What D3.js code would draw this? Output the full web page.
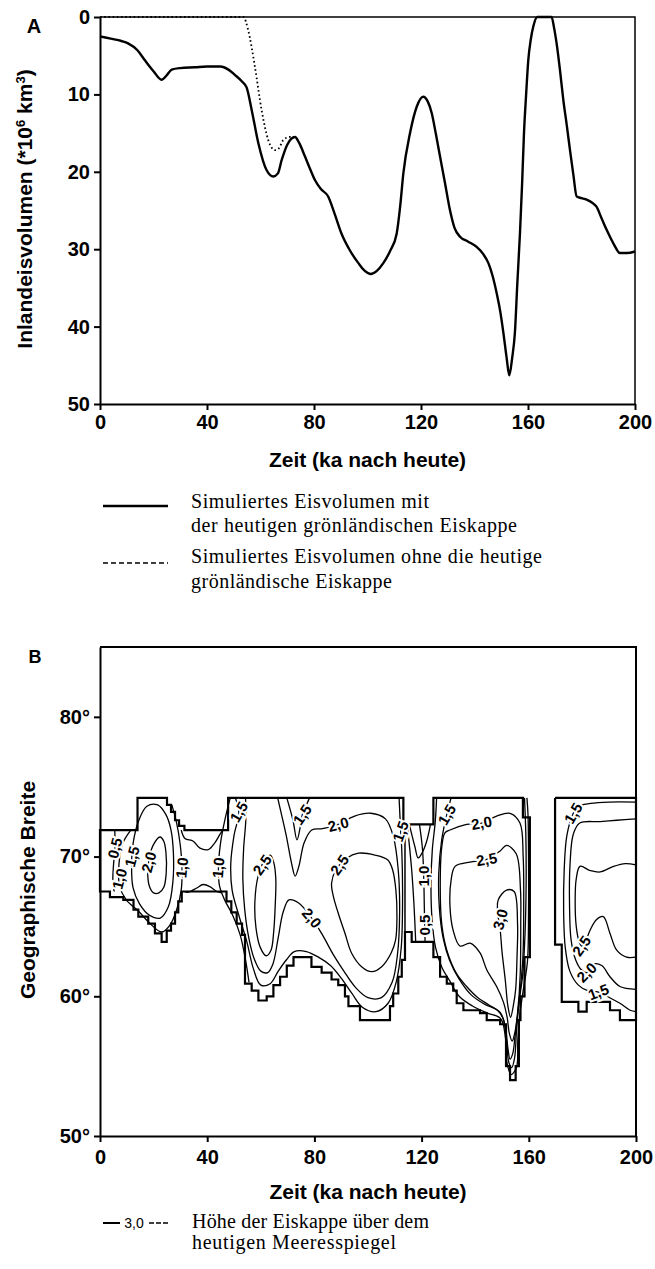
<!DOCTYPE html>
<html><head><meta charset="utf-8">
<script src="https://cdn.jsdelivr.net/npm/d3@7/dist/d3.min.js"></script>
<style>
body{margin:0;background:#fff}
svg{display:block}
.axis text{font-family:"Liberation Sans",Arial,sans-serif;font-weight:bold;font-size:20px;fill:#000}
.axis path,.axis line{stroke:#000;stroke-width:2}
.ttl{font-family:"Liberation Sans",Arial,sans-serif;font-weight:bold;font-size:21px}
.leg{font-family:"Liberation Serif","Times New Roman",serif;font-size:20px}
.clab{font-family:"Liberation Sans",Arial,sans-serif;font-size:15px;font-weight:bold;stroke:#fff;stroke-width:4px;paint-order:stroke;fill:#000}
</style>
</head><body>
<svg id="chart" width="655" height="1269"></svg>
<script>
// ---------------- DATA ----------------
const timeTicks = [0, 40, 80, 120, 160, 200];
const volumeTicks = [0, 10, 20, 30, 40, 50];
const latTicks = [50, 60, 70, 80];

// Panel A: simulated ice volume (time ka, volume 10^6 km^3)
const volWithGreenland = [[0,2.5],[4,2.8],[8,3.1],[10.5,3.4],[14,4.3],[16.8,5.6],[20,7.0],[23,8.1],[25,7.5],[26.8,6.8],[30,6.6],[35.5,6.5],[40,6.4],[45,6.4],[48,6.8],[50.5,7.5],[53,8.3],[54.8,9.1],[56.7,12.0],[59.2,16.3],[62.3,19.8],[64.8,20.6],[66.5,20.2],[67.9,18.5],[70,16.5],[72.9,15.5],[74.5,16.3],[76.6,18.0],[78.5,19.6],[80.4,21.1],[82.5,22.2],[85.3,23.2],[87.5,25.2],[90.3,28.0],[93.5,30.2],[96.6,31.8],[99,32.8],[101.2,33.2],[103.5,32.8],[105.9,31.8],[108.5,30.2],[110.9,28.0],[112.2,24.5],[113.4,20.2],[115.9,15.0],[118.4,11.6],[120.8,10.3],[122.5,10.9],[124,12.4],[125.5,15],[127.1,18.0],[129,21.5],[130.8,24.9],[132.5,27.2],[134.6,28.4],[137.5,29.0],[140.8,29.7],[143.2,30.6],[145.2,31.8],[146.8,33.5],[148.3,35.7],[149.6,38.0],[150.8,40.8],[152,44.0],[153,46.3],[154.1,44.0],[155.1,40.8],[156,34.5],[157,27.9],[157.8,21.5],[158.5,15.0],[159.3,10],[160.1,5.6],[161,3.0],[162,1.2],[163.5,0],[168.8,0],[169.8,1.5],[170.7,3.4],[172,7.0],[173.2,10.7],[174.5,14.0],[175.7,17.2],[177,20.5],[178.2,23.2],[180,23.4],[181.9,23.6],[184,24.0],[185.6,24.5],[187.5,26.0],[189.4,27.5],[192,29.3],[194.4,30.5],[197,30.5],[200,30.3]];
const volWithoutGreenland = [[0,0],[53.6,0],[55.4,1.7],[57.9,6.4],[60.4,12.0],[62.9,15.9],[65.4,17.2],[66.8,17.0],[68.5,15.9],[71,15.5],[72.9,15.5]];

// Panel B: ice-covered area outline (time ka, latitude deg)
const iceOutlineMain = [[0,71.9],[14,71.9],[14,74.2],[25,74.2],[25,73.7],[26.5,73.7],[26.5,73.2],[28,73.2],[28,72.6],[29.5,72.6],[29.5,72.2],[31.5,72.2],[31.5,71.9],[47.8,71.9],[47.8,74.2],[113.2,74.2],[113.2,72.3],[124.4,72.3],[124.4,74.2],[157.8,74.2],[157.8,72.8],[160.4,72.8],[160.4,62.8],[158.4,62.8],[158.4,60.0],[156.9,60.0],[156.9,58.3],[156.3,58.3],[156.3,55.0],[155.1,55.0],[155.1,54.0],[153.0,54.0],[153.0,55.0],[151.5,55.0],[151.5,58.0],[149.3,58.0],[149.3,58.3],[144.3,58.3],[144.3,58.8],[141.8,58.8],[141.8,59.0],[135.6,59.0],[135.6,59.5],[133.1,59.5],[133.1,60.4],[131.8,60.4],[131.8,60.9],[129.4,60.9],[129.4,61.4],[126.9,61.4],[126.9,62.8],[124.4,62.8],[124.4,63.9],[116.3,63.9],[116.3,64.6],[113.8,64.6],[113.8,62.6],[112.6,62.6],[112.6,61.4],[111.3,61.4],[111.3,60.2],[109.4,60.2],[109.4,59.3],[108.2,59.3],[108.2,58.3],[97.0,58.3],[97.0,59.3],[92.7,59.3],[92.7,60.0],[91.4,60.0],[91.4,60.8],[88.9,60.8],[88.9,61.2],[86.4,61.2],[86.4,61.7],[82.7,61.7],[82.7,62.1],[78.9,62.1],[78.9,62.8],[72.2,62.8],[72.2,62.2],[69.7,62.2],[69.7,61.4],[67.2,61.4],[67.2,60.8],[64.7,60.8],[64.7,60.0],[62.2,60.0],[62.2,59.7],[59.1,59.7],[59.1,60.4],[56.6,60.4],[56.6,60.9],[54.1,60.9],[54.1,64.4],[53.0,64.4],[53.0,65.2],[51.0,65.2],[51.0,66.0],[49.0,66.0],[49.0,66.8],[47.2,66.8],[47.2,67.5],[30.5,67.5],[30.5,66.8],[29.2,66.8],[29.2,66.0],[28.0,66.0],[28.0,65.2],[26.5,65.2],[26.5,64.7],[24.9,64.7],[24.9,63.9],[23.0,63.9],[23.0,64.5],[20.5,64.5],[20.5,65.2],[18.0,65.2],[18.0,65.7],[14.3,65.7],[14.3,66.2],[12.5,66.2],[12.5,66.9],[8.7,66.9],[8.7,67.1],[3.7,67.1],[3.7,67.5],[0,67.5]];
const iceOutlineLate = [[169.8,74.2],[200,74.2],[200,58.3],[194.0,58.3],[194.0,59.0],[190.3,59.0],[190.3,59.6],[181.6,59.6],[181.6,58.9],[178.5,58.9],[178.5,59.6],[172.3,59.6],[172.3,63.7],[169.8,63.7],[169.8,74.2]];
const bridgeEdge = [[113.8,72.3],[113.8,64.6]];

// Panel B: contour lines of ice height (km) -- open lines
const r1c05 = [[5.5,71.9],[5.6,70.6],[5.0,69.3],[4.8,68.2],[5.3,67.5]];
const r1c10 = [[11.5,71.9],[8.6,71.0],[7.1,69.5],[7.3,67.9],[9.8,66.9],[14.3,66.1],[18.7,65.2],[23,64.6],[26.1,65.1],[28.6,66.2],[30.3,67.6],[30.6,69.2],[29.9,70.9],[28.6,72.4],[26.8,73.7]];
const bandTop = [[30.3,71.9],[31.7,71.3],[34.8,71.1],[37.3,70.6],[40.4,70.5],[42.9,71.0],[44.8,71.6],[45.8,71.9]];
const bandBottom = [[31.2,67.5],[32.9,67.45],[36.1,67.75],[38.5,68.0],[41,67.85],[43.5,67.5],[45.5,67.4]];
const r2c10 = [[48.6,74.2],[46.8,72.8],[45.0,71.0],[44.2,69.2],[44.6,67.9],[46.5,66.9],[49.5,65.8],[52.3,64.4],[54.3,62.6],[55.6,61.0]];
const r2c15 = [[50.5,74.2],[51.8,73.2],[50.0,71.5],[48.8,69.5],[49.3,67.6],[51.8,65.8],[54.8,63.9],[57.2,62.0],[60.0,60.8],[63.5,60.9],[66.5,61.8],[69.5,62.6],[72.5,63.2],[77,63.2],[81.5,62.8],[86,62.2],[90,61.3],[94,60.2],[98,59.2],[103,58.9],[107.5,59.5],[110.5,61.0],[112.4,63.5],[112.9,67],[112.6,70.5],[112.2,71.8],[111.6,74.2]];
const r2c15v = [[69.7,74.2],[72.0,72.6],[73.5,71.2],[74.8,72.2],[75.5,73.0],[76.8,73.6],[78.2,74.2]];
const r2c20 = [[54.3,74.2],[54.4,72.6],[53.6,70.6],[53.3,68.4],[54.0,66.2],[55.5,64.2],[57.5,62.7],[60.0,61.8],[62.6,61.7],[64.5,62.3],[66.5,64.2],[68.3,66.0],[70.5,66.9],[74.0,66.7],[79.0,65.6],[83,64.4],[87,63.0],[91,61.8],[95.5,60.6],[100,59.9],[105,59.9],[109,61],[111,63],[111.8,66],[111.3,69],[109.5,71.4],[106.5,72.7],[101,73.1],[95,72.9],[88.9,72.3],[83,72.0],[79,71.9],[76.2,71.0],[74.2,69.3],[72.8,68.6],[71.5,69.5],[69.5,71.5],[67.5,73.2],[66.3,74.2]];
const bridgeU = [[115.4,72.3],[117.5,70.7],[118.7,69.9],[120.0,70.2],[121.9,71.1],[123.3,72.3]];
const bridgeC10 = [[119.2,72.3],[120.3,70.6],[120.8,68.6],[121.0,66.5],[121.3,63.9]];
const bridgeC05 = [[114.6,72.3],[115.6,70.5],[116.4,68.8],[117.2,66.4],[117.8,63.9]];
const r3c10 = [[125.6,74.2],[125.1,72.5],[124.0,70.5],[123.5,68],[123.9,65.5],[125.2,63.5],[127.5,62.1],[130.5,61.1],[134,60.0],[139,59.3],[144.5,58.8],[149.5,58.4],[151.3,57.0],[151.8,55.3],[153.4,54.4],[155.4,54.9],[155.9,56.8],[156.6,58.6],[157.9,60.4],[159.5,62.5],[159.9,66],[159.9,70],[159.7,73],[159.3,74.2]];
const r3c15 = [[131,74.2],[129.4,73.0],[127.5,71.2],[126.4,68.8],[126.6,66.4],[128,64.2],[130.4,62.6],[133.8,61.3],[138.5,60.1],[143.8,59.4],[148.3,59.0],[150.6,58.3],[151.8,56.6],[152.5,55.3],[153.6,54.9],[154.7,55.6],[155.4,57.5],[156.3,59.5],[157.7,61.5],[158.6,64.5],[159.0,68],[158.9,71.5],[158.4,74.2]];
const r4c15 = [[200,73.9],[190,73.9],[183,73.8],[178.5,73.6],[176.6,73.1],[174.2,71.5],[173.2,69],[173.0,66],[173.6,63.5],[175.3,61.8],[178.5,60.8],[182,60.4],[186,60.3],[189.1,60.0],[194,59.5],[197.8,59.0],[200,58.9]];
const r4c20 = [[200,72.7],[192.8,72.6],[186.6,72.5],[179,72.4],[176.6,71.6],[175.4,69.5],[175.2,66.5],[175.8,64.0],[177.5,62.6],[179.6,61.9],[181.6,61.7],[184.1,62.3],[187.2,62.2],[190.3,61.4],[194,60.7],[200,60.5]];
const r4c25 = [[200,69.4],[196,69.5],[191.6,69.3],[186.6,68.9],[182.9,69.0],[179.1,69.3],[177.7,68.4],[177.3,66.8],[177.7,65.0],[178.8,63.9],[179.7,63.6],[181.3,64.0],[182.9,64.75],[185.3,65.5],[187.8,65.7],[190.3,64.5],[192.8,63.3],[196.5,62.8],[200,62.8]];
// closed contour loops
const r1c15 = [[17.5,73.6],[14.5,72.6],[12.4,71.0],[11.8,69.4],[12.3,67.8],[14.8,66.6],[18.5,65.8],[22.5,65.6],[25.5,66.4],[27.2,68.2],[27.4,70.2],[26.5,71.9],[24.6,73.0],[21.5,73.7]];
const r1c20 = [[22.4,71.4],[19.8,70.8],[18.3,69.8],[17.8,68.8],[18.4,67.9],[20.0,67.4],[22,67.4],[23.8,67.8],[24.7,68.8],[24.6,70.3],[23.8,71.1]];
const r2c25a = [[63.5,70.1],[61.0,69.6],[59.0,68.6],[57.8,66.8],[58.2,64.9],[59.8,63.5],[62.0,62.9],[63.8,63.3],[64.8,64.6],[65.4,66.6],[65.6,68.4],[64.8,69.6]];
const r2c25b = [[96.4,70.24],[102.6,70.11],[107.4,69.76],[109.2,69.04],[110.4,67.61],[110.8,65.70],[110.3,64.03],[108.6,63.08],[105.1,62.12],[101.4,61.76],[97.6,62.12],[93.9,63.08],[91.4,64.51],[88.9,65.94],[87.1,67.13],[86.4,68.09],[88.0,69.04],[92.0,69.88]];
const r3c20 = [[130.6,71.9],[136.8,72.3],[142.4,72.4],[148,72.9],[153,73.1],[156.7,72.4],[157.9,70.0],[158.1,66.4],[157.8,62.8],[156.3,59.5],[154.9,57.2],[154.0,55.9],[153.0,55.5],[152.2,56.3],[151.3,57.7],[149.5,58.8],[145,59.4],[141,59.9],[136.8,60.7],[133.1,61.6],[129.4,63.3],[127.5,65.2],[127.0,68.8],[127.6,70.8],[128.7,71.7]];
const r3c25 = [[132.5,69.3],[138.1,69.6],[144.3,69.8],[149.3,70.4],[151.7,70.8],[155.3,70.2],[156.9,67.6],[157.0,65.2],[156.8,61.6],[155.9,59.0],[154.8,57.4],[153.8,56.8],[152.8,57.3],[151.9,58.5],[150.5,59.6],[148,60.7],[144.3,61.9],[141.8,63.1],[138.1,63.8],[134.3,63.6],[131.8,64.7],[130.6,66.4],[131.0,68.3]];
const r3c30 = [[148.6,66.9],[151.7,67.6],[154.5,67.5],[155.8,65.2],[155.6,62.8],[155.1,60.5],[154.2,59.3],[153.2,58.5],[152.2,59.3],[151.2,61.2],[150.0,63.2],[149.3,64.8],[148.4,66.0]];

// contour labels: [time, latitude, text]
const contourLabels = [[5.6,70.6,"0,5"],[7.3,68.4,"1,0"],[12.0,70.0,"1,5"],[18.2,69.6,"2,0"],[30.6,69.2,"1,0"],[44.2,69.2,"1,0"],[51.8,73.2,"1,5"],[60.5,69.4,"2,5"],[75.5,73.0,"1,5"],[88.9,72.3,"2,0"],[79.0,65.6,"2,0"],[89.4,69.4,"2,5"],[112.2,71.8,"1,5"],[120.8,68.6,"1,0"],[121.3,65.1,"0,5"],[129.4,73.0,"1,5"],[142.4,72.4,"2,0"],[144.3,69.8,"2,5"],[149.4,65.5,"3,0"],[176.6,73.1,"1,5"],[179.7,63.6,"2,5"],[181.6,61.7,"2,0"],[186.0,60.3,"1,5"]];
const labelAngles = [-75,-75,-75,-75,-85,-85,-60,-55,-55,-15,50,-55,-70,-90,-90,-60,-10,-10,-75,-60,-55,-45,-20];

// legend texts
const legendA = ["Simuliertes Eisvolumen mit","der heutigen grönländischen Eiskappe","Simuliertes Eisvolumen ohne die heutige","grönländische Eiskappe"];
const legendB = ["Höhe der Eiskappe über dem","heutigen Meeresspiegel"];

// ---------------- DRAWING ----------------
const svg = d3.select("#chart");
const font = '"Liberation Sans",Arial,sans-serif';

// ===== Panel A =====
const xA = d3.scaleLinear().domain([0,200]).range([100,635]);
const yA = d3.scaleLinear().domain([0,50]).range([17,404]);

svg.append("path")
  .attr("d", `M${xA(0)},${yA(0)}H${xA(200)}V${yA(50)}`)
  .attr("fill","none").attr("stroke","#000").attr("stroke-width",1.5);

svg.append("g").attr("class","axis")
  .attr("transform",`translate(${xA(0)},0)`)
  .call(d3.axisLeft(yA).tickValues(volumeTicks).tickSize(6).tickSizeOuter(0).tickPadding(4).tickFormat(d3.format("d")));
svg.append("g").attr("class","axis")
  .attr("transform",`translate(0,${yA(50)})`)
  .call(d3.axisBottom(xA).tickValues(timeTicks).tickSize(6).tickSizeOuter(0).tickPadding(5).tickFormat(d3.format("d")));

const lineA = d3.line().x(d=>xA(d[0])).y(d=>yA(d[1])).curve(d3.curveMonotoneX);
svg.append("path").datum(volWithoutGreenland).attr("d",lineA)
  .attr("fill","none").attr("stroke","#000").attr("stroke-width",1.8).attr("stroke-dasharray","1.6,2.6");
svg.append("path").datum(volWithGreenland).attr("d",lineA)
  .attr("fill","none").attr("stroke","#000").attr("stroke-width",2.4);

svg.append("text").attr("x",34).attr("y",33).attr("text-anchor","middle")
  .attr("class","ttl").style("font-size","20px").text("A");
svg.append("text").attr("class","ttl")
  .attr("transform","translate(25,209) rotate(-90)").attr("dy","0.35em").attr("text-anchor","middle")
  .html('Inlandeisvolumen (*10<tspan dy="-7" font-size="13">6</tspan><tspan dy="7"> km</tspan><tspan dy="-7" font-size="13">3</tspan><tspan dy="7">)</tspan>');
svg.append("text").attr("class","ttl").attr("x",(xA(0)+xA(200))/2).attr("y",467)
  .attr("text-anchor","middle").text("Zeit (ka nach heute)");

// legend A
svg.append("line").attr("x1",103).attr("x2",168).attr("y1",506).attr("y2",506)
  .attr("stroke","#000").attr("stroke-width",2.4);
svg.append("line").attr("x1",103).attr("x2",168).attr("y1",563).attr("y2",563)
  .attr("stroke","#000").attr("stroke-width",1.6).attr("stroke-dasharray","5,3");
const legAy = [508,532,563,588], legAw = [238,326,351,201];
legendA.forEach((t,i)=>svg.append("text").attr("class","leg").attr("x",191).attr("y",legAy[i])
  .attr("textLength",legAw[i]).attr("lengthAdjust","spacing").text(t));

// ===== Panel B =====
const xB = d3.scaleLinear().domain([0,200]).range([100,636]);
const yB = d3.scaleLinear().domain([50,85]).range([1136,647]);

svg.append("path")
  .attr("d", `M${xB(0)},${yB(85)}H${xB(200)}V${yB(50)}`)
  .attr("fill","none").attr("stroke","#000").attr("stroke-width",2);

svg.append("g").attr("class","axis")
  .attr("transform",`translate(${xB(0)},0)`)
  .call(d3.axisLeft(yB).tickValues(latTicks).tickSize(6).tickSizeOuter(0).tickPadding(4).tickFormat(d=>d+"°"));
svg.append("g").attr("class","axis")
  .attr("transform",`translate(0,${yB(50)})`)
  .call(d3.axisBottom(xB).tickValues(timeTicks).tickSize(6).tickSizeOuter(0).tickPadding(8).tickFormat(d3.format("d")));

const lineB = d3.line().x(d=>xB(d[0])).y(d=>yB(d[1]));
const smoothB = d3.line().x(d=>xB(d[0])).y(d=>yB(d[1])).curve(d3.curveCatmullRom.alpha(0.5));
const closedB = d3.line().x(d=>xB(d[0])).y(d=>yB(d[1])).curve(d3.curveCatmullRomClosed.alpha(0.5));

const openContours = [r1c05,r1c10,bandTop,bandBottom,r2c10,r2c15,r2c15v,r2c20,bridgeU,bridgeC10,bridgeC05,r3c10,r3c15,r4c15,r4c20,r4c25];
const closedContours = [r1c15,r1c20,r2c25a,r2c25b,r3c20,r3c25,r3c30];
const gC = svg.append("g").attr("fill","none").attr("stroke","#000").attr("stroke-width",1.3);
openContours.forEach(c=>gC.append("path").datum(c).attr("d",smoothB));
closedContours.forEach(c=>gC.append("path").datum(c).attr("d",closedB));

const gO = svg.append("g").attr("fill","none").attr("stroke","#000").attr("stroke-width",2.2);
gO.append("path").datum(iceOutlineMain).attr("d",d=>lineB(d)+"Z");
gO.append("path").datum(iceOutlineLate).attr("d",lineB);
gO.append("path").datum(bridgeEdge).attr("d",lineB).attr("stroke-width",1.5);

contourLabels.forEach((l,i)=>{
  svg.append("text").attr("class","clab")
    .attr("transform",`translate(${xB(l[0])},${yB(l[1])}) rotate(${labelAngles[i]})`)
    .attr("text-anchor","middle").attr("dy","0.35em").text(l[2]);
});

svg.append("text").attr("x",35).attr("y",663).attr("text-anchor","middle")
  .attr("class","ttl").style("font-size","18px").text("B");
svg.append("text").attr("class","ttl")
  .attr("transform","translate(28,890) rotate(-90)").attr("dy","0.35em").attr("text-anchor","middle")
  .text("Geographische Breite");
svg.append("text").attr("class","ttl").attr("x",(xB(0)+xB(200))/2).attr("y",1199)
  .attr("text-anchor","middle").text("Zeit (ka nach heute)");

// legend B
svg.append("line").attr("x1",103).attr("x2",120).attr("y1",1223).attr("y2",1223).attr("stroke","#000").attr("stroke-width",2);
svg.append("text").attr("x",134).attr("y",1228).attr("text-anchor","middle")
  .style("font-family",font).style("font-size","14px").text("3,0");
svg.append("line").attr("x1",149).attr("x2",169).attr("y1",1223).attr("y2",1223).attr("stroke","#000").attr("stroke-width",1.5).attr("stroke-dasharray","5,2");
const legBy = [1228,1249], legBw = [237,204];
legendB.forEach((t,i)=>svg.append("text").attr("class","leg").attr("x",192).attr("y",legBy[i])
  .attr("textLength",legBw[i]).attr("lengthAdjust","spacing").text(t));
</script>
</body></html>
